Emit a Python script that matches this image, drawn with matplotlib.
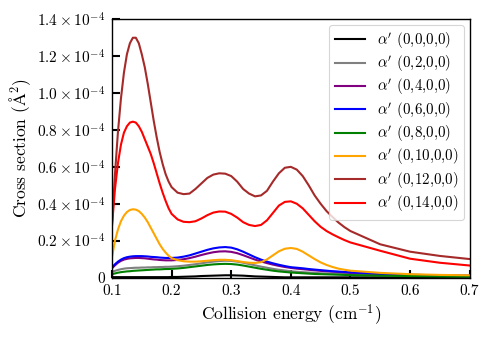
import numpy as np
import matplotlib
matplotlib.use("Agg")
import matplotlib.pyplot as plt
from matplotlib.ticker import FuncFormatter, MultipleLocator

plt.rcParams['font.family'] = ['cmr10', 'DejaVu Serif']
plt.rcParams['mathtext.fontset'] = 'cm'
plt.rcParams['axes.unicode_minus'] = False

energy = [0.100, 0.105, 0.110, 0.115, 0.120, 0.125, 0.130, 0.135, 0.140, 0.145,
          0.150, 0.155, 0.160, 0.165, 0.170, 0.175, 0.180, 0.185, 0.190, 0.195,
          0.20, 0.21, 0.22, 0.23, 0.24, 0.25, 0.26, 0.27, 0.28, 0.29,
          0.30, 0.31, 0.32, 0.33, 0.34, 0.35, 0.36, 0.37, 0.38, 0.39,
          0.40, 0.41, 0.42, 0.43, 0.44, 0.45, 0.46, 0.47, 0.48, 0.49,
          0.50, 0.55, 0.60, 0.65, 0.70]

# cross sections in units of 1e-4 A^2
s_0 = [0.002, 0.002, 0.002, 0.002, 0.002, 0.002, 0.002, 0.002, 0.002, 0.002,
       0.002, 0.002, 0.002, 0.002, 0.002, 0.002, 0.002, 0.002, 0.002, 0.002,
       0.003, 0.003, 0.004, 0.005, 0.006, 0.008, 0.009, 0.010, 0.011, 0.012,
       0.012, 0.011, 0.010, 0.008, 0.006, 0.005, 0.004, 0.003, 0.002, 0.001,
       0.001, 0.001, 0.001, 0.001, 0.001, 0.001, 0.001, 0.001, 0.001, 0.001,
       0.001, 0.001, 0.001, 0.001, 0.001]
s_2 = [0.030, 0.036, 0.041, 0.045, 0.048, 0.050, 0.051, 0.052, 0.053, 0.053,
       0.054, 0.054, 0.055, 0.055, 0.056, 0.056, 0.057, 0.057, 0.058, 0.058,
       0.059, 0.061, 0.064, 0.068, 0.072, 0.077, 0.082, 0.086, 0.089, 0.091,
       0.090, 0.086, 0.080, 0.073, 0.066, 0.059, 0.053, 0.047, 0.042, 0.038,
       0.034, 0.031, 0.029, 0.027, 0.025, 0.023, 0.022, 0.021, 0.020, 0.019,
       0.018, 0.014, 0.010, 0.008, 0.006]
s_4 = [0.050, 0.066, 0.080, 0.090, 0.097, 0.101, 0.104, 0.105, 0.106, 0.106,
       0.105, 0.104, 0.102, 0.100, 0.098, 0.097, 0.095, 0.094, 0.093, 0.093,
       0.093, 0.095, 0.099, 0.105, 0.113, 0.122, 0.130, 0.137, 0.141, 0.142,
       0.139, 0.132, 0.121, 0.109, 0.097, 0.087, 0.078, 0.070, 0.063, 0.057,
       0.052, 0.048, 0.045, 0.042, 0.039, 0.036, 0.034, 0.032, 0.030, 0.028,
       0.026, 0.019, 0.014, 0.011, 0.009]
s_6 = [0.055, 0.072, 0.086, 0.097, 0.105, 0.110, 0.113, 0.115, 0.116, 0.116,
       0.116, 0.115, 0.114, 0.112, 0.111, 0.110, 0.108, 0.107, 0.106, 0.106,
       0.106, 0.108, 0.113, 0.120, 0.130, 0.140, 0.150, 0.158, 0.163, 0.165,
       0.162, 0.153, 0.140, 0.125, 0.110, 0.097, 0.086, 0.077, 0.069, 0.062,
       0.056, 0.053, 0.050, 0.046, 0.043, 0.040, 0.037, 0.034, 0.032, 0.030,
       0.028, 0.020, 0.015, 0.012, 0.010]
s_8 = [0.018, 0.022, 0.026, 0.029, 0.031, 0.033, 0.034, 0.036, 0.037, 0.038,
       0.039, 0.040, 0.041, 0.042, 0.043, 0.044, 0.044, 0.045, 0.046, 0.046,
       0.047, 0.049, 0.052, 0.056, 0.060, 0.064, 0.068, 0.071, 0.073, 0.074,
       0.073, 0.070, 0.065, 0.059, 0.053, 0.047, 0.042, 0.037, 0.033, 0.030,
       0.027, 0.025, 0.023, 0.021, 0.019, 0.018, 0.017, 0.016, 0.015, 0.014,
       0.013, 0.010, 0.008, 0.006, 0.005]
s_10 = [0.110, 0.200, 0.260, 0.305, 0.335, 0.355, 0.366, 0.370, 0.368, 0.360,
        0.345, 0.325, 0.300, 0.270, 0.240, 0.210, 0.180, 0.155, 0.135, 0.118,
        0.105, 0.094, 0.088, 0.086, 0.086, 0.088, 0.091, 0.094, 0.096, 0.096,
        0.094, 0.089, 0.084, 0.080, 0.079, 0.083, 0.098, 0.120, 0.142, 0.156,
        0.160, 0.155, 0.140, 0.120, 0.100, 0.082, 0.068, 0.057, 0.048, 0.042,
        0.037, 0.025, 0.018, 0.014, 0.012]
s_12 = [0.290, 0.560, 0.790, 0.970, 1.110, 1.210, 1.270, 1.300, 1.300, 1.270,
        1.210, 1.140, 1.050, 0.950, 0.850, 0.760, 0.680, 0.615, 0.560, 0.520,
        0.490, 0.460, 0.452, 0.455, 0.480, 0.510, 0.540, 0.558, 0.565, 0.563,
        0.550, 0.520, 0.480, 0.455, 0.440, 0.445, 0.470, 0.520, 0.565, 0.595,
        0.600, 0.585, 0.550, 0.500, 0.445, 0.400, 0.360, 0.328, 0.298, 0.273,
        0.252, 0.180, 0.140, 0.117, 0.100]
s_14 = [0.280, 0.480, 0.620, 0.720, 0.785, 0.820, 0.840, 0.845, 0.840, 0.820,
        0.790, 0.750, 0.710, 0.670, 0.620, 0.565, 0.510, 0.460, 0.415, 0.375,
        0.345, 0.315, 0.302, 0.300, 0.305, 0.320, 0.338, 0.352, 0.358, 0.357,
        0.345, 0.325, 0.300, 0.285, 0.279, 0.285, 0.310, 0.350, 0.390, 0.410,
        0.413, 0.400, 0.375, 0.340, 0.305, 0.275, 0.252, 0.234, 0.218, 0.203,
        0.190, 0.145, 0.102, 0.080, 0.065]

series = [s_0, s_2, s_4, s_6, s_8, s_10, s_12, s_14]
labels = [r"$\alpha'$ (0,0,0,0)", r"$\alpha'$ (0,2,0,0)", r"$\alpha'$ (0,4,0,0)",
          r"$\alpha'$ (0,6,0,0)", r"$\alpha'$ (0,8,0,0)", r"$\alpha'$ (0,10,0,0)",
          r"$\alpha'$ (0,12,0,0)", r"$\alpha'$ (0,14,0,0)"]
colors = ['black', 'gray', 'purple', 'blue', 'green', 'orange', 'brown', 'red']

fig = plt.figure(figsize=(4.91, 3.38), dpi=100)
ax = fig.add_axes([112/491, 1 - 277.5/338, (469.6-112)/491, (277.5-19.3)/338])

e = np.array(energy)
for s, lab, c in zip(series, labels, colors):
    ax.plot(e, np.array(s) * 1e-4, color=c, lw=1.5, label=lab)

ax.set_xlim(0.1, 0.7)
ax.set_ylim(0, 1.4e-4)
ax.xaxis.set_major_locator(MultipleLocator(0.1))
ax.yaxis.set_major_locator(MultipleLocator(0.2e-4))

def yfmt(v, pos):
    if abs(v) < 1e-12:
        return "0"
    return r"$%.1f\times10^{-4}$" % (v * 1e4)

def xfmt(v, pos):
    return "%.1f" % v

ax.yaxis.set_major_formatter(FuncFormatter(yfmt))
ax.xaxis.set_major_formatter(FuncFormatter(xfmt))
ax.tick_params(direction='in', length=6, width=1.5, labelsize=11, pad=5)
for sp in ax.spines.values():
    sp.set_linewidth(1.0)

ax.set_xlabel(r"Collision energy (cm$^{-1}$)", fontsize=12.5, labelpad=3)
ax.set_ylabel(r"Cross section ($\mathrm{\AA}^2$)", fontsize=12.5, labelpad=3)

leg = ax.legend(loc='upper right', fontsize=10.8, frameon=True, fancybox=True,
                edgecolor='#cccccc', handlelength=2.0, labelspacing=0.22,
                borderaxespad=0.35)
leg.get_frame().set_linewidth(0.8)

fig.savefig("out.png", dpi=100)
